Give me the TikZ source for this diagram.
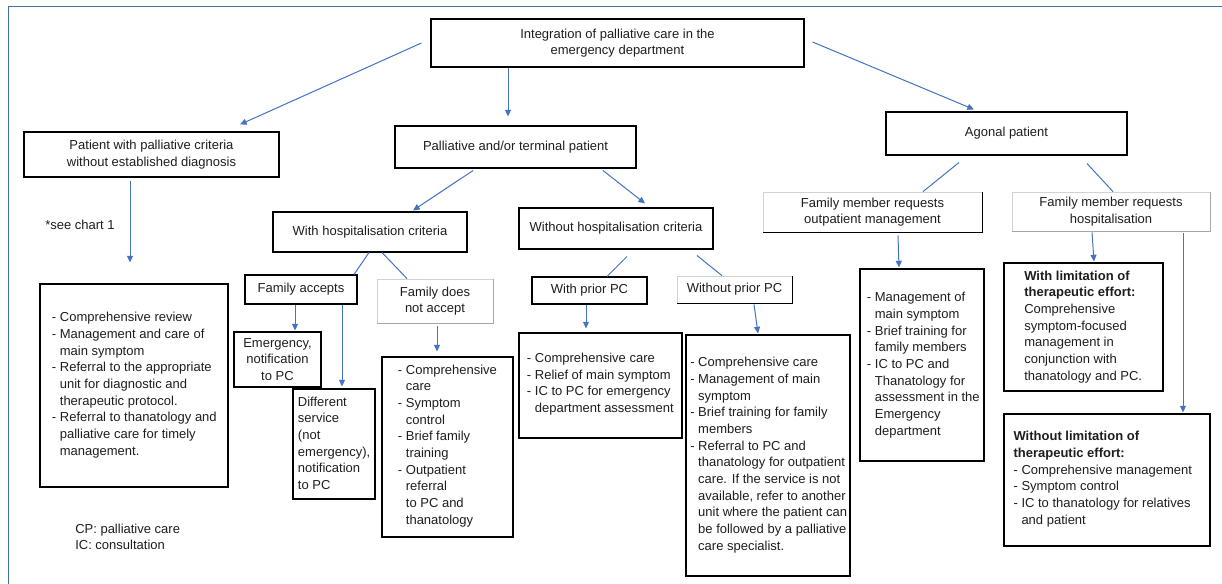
\documentclass[tikz,border=0pt]{standalone}
\usepackage{fontspec}
\setmainfont{Liberation Sans}
\usetikzlibrary{arrows.meta,fit,calc}
\definecolor{frameblue}{RGB}{65,113,156}
\definecolor{arrowblue}{RGB}{68,114,196}
\definecolor{txtgray}{RGB}{30,30,30}
\tikzset{
  bx/.style={draw=black, line width=0.8pt, inner sep=0pt, fill=white},
  softbx/.style={draw=gray!35, line width=0.6pt, inner sep=0pt, fill=white},
  txt/.style={font=\fontsize{9.75pt}{12.5pt}\selectfont, inner sep=0pt, text=txtgray},
  arr/.style={draw=arrowblue, line width=0.75pt, -{Triangle[length=5pt,width=4.5pt]}},
  lnk/.style={draw=arrowblue, line width=0.75pt},
  framestyle/.style={draw=frameblue, line width=1.1pt},
}
\newcommand\hi{\hphantom{- }}
\begin{document}
\begin{tikzpicture}[x=0.75pt,y=-0.75pt]
\clip (0,0) rectangle (1222,584);
\fill[white] (0,0) rectangle (1222,584);
\draw[framestyle] (8.5,6.5) rectangle (1250,620);

% ---- boxes ----
\node[bx, fit={(431,19)(804,67)}] (top) {};
\node[bx, fit={(24,132)(279,177)}] (pwc) {};
\node[bx, fit={(395,126)(636,168)}] (pal) {};
\node[bx, fit={(886,112)(1127,155)}] (ago) {};
\node[bx, fit={(273,212)(467,252)}] (wh) {};
\node[bx, fit={(519,208)(713,249)}] (woh) {};
\node[bx, fit={(245,275)(357,304)}] (fa) {};
\node[softbx, fit={(377,279)(493,323)}] (fna) {};
\node[bx, fit={(532,277)(647,304)}] (wpc) {};
\node[softbx, fit={(677,276)(792,303)}] (wopc) {};
\node[softbx, fit={(763,192)(982,232)}] (fmo) {};
\node[softbx, fit={(1012,192)(1210,231)}] (fmh) {};
\node[bx, fit={(234,332)(321,387)}] (em) {};
\node[bx, fit={(293,389)(375,499)}] (ds) {};
\node[bx, fit={(40,284)(228,487)}] (l1) {};
\node[bx, fit={(382,357)(513,537)}] (l2) {};
\node[bx, fit={(519,333)(682,438)}] (l3) {};
\node[bx, fit={(686,335)(850,576)}] (l4) {};
\node[bx, fit={(860,269)(984,461)}] (l5) {};
\node[bx, fit={(1004,263)(1163,391)}] (l6) {};
\node[bx, fit={(1004,414)(1210,546)}] (l7) {};

% shaded edges of the soft boxes
\draw[gray!70, line width=0.6pt] (fna.north east) -- (fna.south east) -- (fna.south west);
\draw[gray!70, line width=0.6pt] (fmh.north east) -- (fmh.south east) -- (fmh.south west);
\draw[black, line width=0.8pt] (wopc.north east) -- (wopc.south east) -- (wopc.south west);
\draw[black, line width=0.8pt] (fmo.north east) -- (fmo.south east) -- (fmo.south west);

% ---- texts ----
\node[txt, align=center] (ttop) at (top.center) {Integration of palliative care in the\\emergency department};
\node[txt, align=center] (tpwc) at (pwc.center) {Patient with palliative criteria\\without established diagnosis};
\node[txt, align=center] (tpal) at (pal.center) {Palliative and/or terminal patient};
\node[txt, align=center] (tago) at (ago.center) {Agonal patient};
\node[txt, align=center] (twh) at (wh.center) {With hospitalisation criteria};
\node[txt, align=center] (twoh) at (woh.center) {Without hospitalisation criteria};
\node[txt, align=center] (tfa) at (fa.center) {Family accepts};
\node[txt, align=center] (tfna) at (fna.center) {Family does\\not accept};
\node[txt, align=center] (twpc) at (wpc.center) {With prior PC};
\node[txt, align=center] (twopc) at (wopc.center) {Without prior PC};
\node[txt, align=center] (tfmo) at (fmo.center) {Family member requests\\outpatient management};
\node[txt, align=center] (tfmh) at (fmh.center) {Family member requests\\hospitalisation};
\node[txt, align=center] (tem) at (em.center) {Emergency,\\notification\\to PC};
\node[txt, align=left, anchor=west] (tds) at (297.7,443.3) {Different\\service\\(not\\emergency),\\notification\\to PC};
\node[txt, align=left, anchor=west] (tl1) at (51.7,385) {- Comprehensive review\\- Management and care of\\\hi main symptom\\- Referral to the appropriate\\\hi unit for diagnostic and\\\hi therapeutic protocol.\\- Referral to thanatology and\\\hi palliative care for timely\\\hi management.};
\node[txt, align=left, anchor=west] (tl2) at (397.7,445.8) {- Comprehensive\\\hi care\\- Symptom\\\hi control\\- Brief family\\\hi training\\- Outpatient\\\hi referral\\\hi to PC and\\\hi thanatology};
\node[txt, align=left, anchor=west] (tl3) at (526.7,384.3) {- Comprehensive care\\- Relief of main symptom\\- IC to PC for emergency\\\hi department assessment};
\node[txt, align=left, anchor=west] (tl4) at (690,455) {- Comprehensive care\\- Management of main\\\hi symptom\\- Brief training for family\\\hi members\\- Referral to PC and\\\hi thanatology for outpatient\\\hi care. If the service is not\\\hi available, refer to another\\\hi unit where the patient can\\\hi be followed by a palliative\\\hi care specialist.};
\node[txt, align=left, anchor=west] (tl5) at (866.7,365) {- Management of\\\hi main symptom\\- Brief training for\\\hi family members\\- IC to PC and\\\hi Thanatology for\\\hi assessment in the\\\hi Emergency\\\hi department};
\node[txt, align=left, anchor=west] (tl6) at (1024,326.7) {\textbf{With limitation of}\\\textbf{therapeutic effort:}\\Comprehensive\\symptom-focused\\management in\\conjunction with\\thanatology and PC.};
\node[txt, align=left, anchor=west] (tl7) at (1013.3,479.2) {\textbf{Without limitation of}\\\textbf{therapeutic effort:}\\- Comprehensive management\\- Symptom control\\- IC to thanatology for relatives\\\hi and patient};
\node[txt, align=left, anchor=west] (tsee) at (45,225) {*see chart 1};
\node[txt, align=left, anchor=west] (tleg) at (75,537) {CP: palliative care\\IC: consultation};

% ---- connectors ----
\draw[arr] ($(top.west)+(-9,0)$) -- ($(pwc.north -| 240,0)+(0,-7)$);
\draw[arr] (top.south -| 508,0) -- ($(pal.north -| 508,0)+(0,-9)$);
\draw[arr] ($(top.east)+(8,-1)$) -- ($(ago.north -| 974,0)+(0,-2)$);
\draw[arr] ($(pwc.south -| 130,0)+(0,3)$) -- ($(l1.north -| 130,0)+(0,-21)$);
\draw[arr] ($(pal.south -| 473,0)+(0,2)$) -- ($(wh.north -| 413,0)+(0,-1)$);
\draw[arr] ($(pal.south -| 603,0)+(0,2)$) -- ($(woh.north -| 645,0)+(0,-4)$);
\draw[lnk] (wh.south -| 369,0) -- (fa.north -| 354,0);
\draw[lnk] (wh.south -| 382,0) -- (fna.north -| 407,0);
\draw[lnk] ($(woh.south -| 627,0)+(0,7)$) -- (wpc.north -| 607,0);
\draw[lnk] ($(woh.south -| 697,0)+(0,6)$) -- (wopc.north -| 722,0);
\draw[lnk] ($(ago.south -| 959,0)+(0,7)$) -- (fmo.north -| 923,0);
\draw[lnk] ($(ago.south -| 1087,0)+(0,8)$) -- (fmh.north -| 1113,0);
\draw[arr] (fa.south -| 295,0) -- ($(em.north -| 295,0)+(0,-1)$);
\draw[arr] (fa.south -| 342,0) -- ($(ds.north -| 342,0)+(0,-2)$);
\draw[arr] ($(fna.south -| 437,0)+(0,3)$) -- ($(l2.north -| 437,0)+(0,-5)$);
\draw[arr] (wpc.south -| 586,0) -- ($(l3.north -| 586,0)+(0,-4)$);
\draw[arr] ($(wopc.south -| 754,0)+(0,1)$) -- ($(l4.north -| 758,0)+(0,-1)$);
\draw[arr] ($(fmo.south -| 898,0)+(0,3)$) -- ($(l5.north -| 899,0)+(0,-1)$);
\draw[arr] ($(fmh.south -| 1092,0)+(0,1)$) -- ($(l6.north -| 1094,0)+(0,-1)$);
\draw[arr] ($(fmh.south -| 1183,0)+(0,2)$) -- ($(l7.north -| 1183,0)+(0,-1)$);
\end{tikzpicture}
\end{document}
